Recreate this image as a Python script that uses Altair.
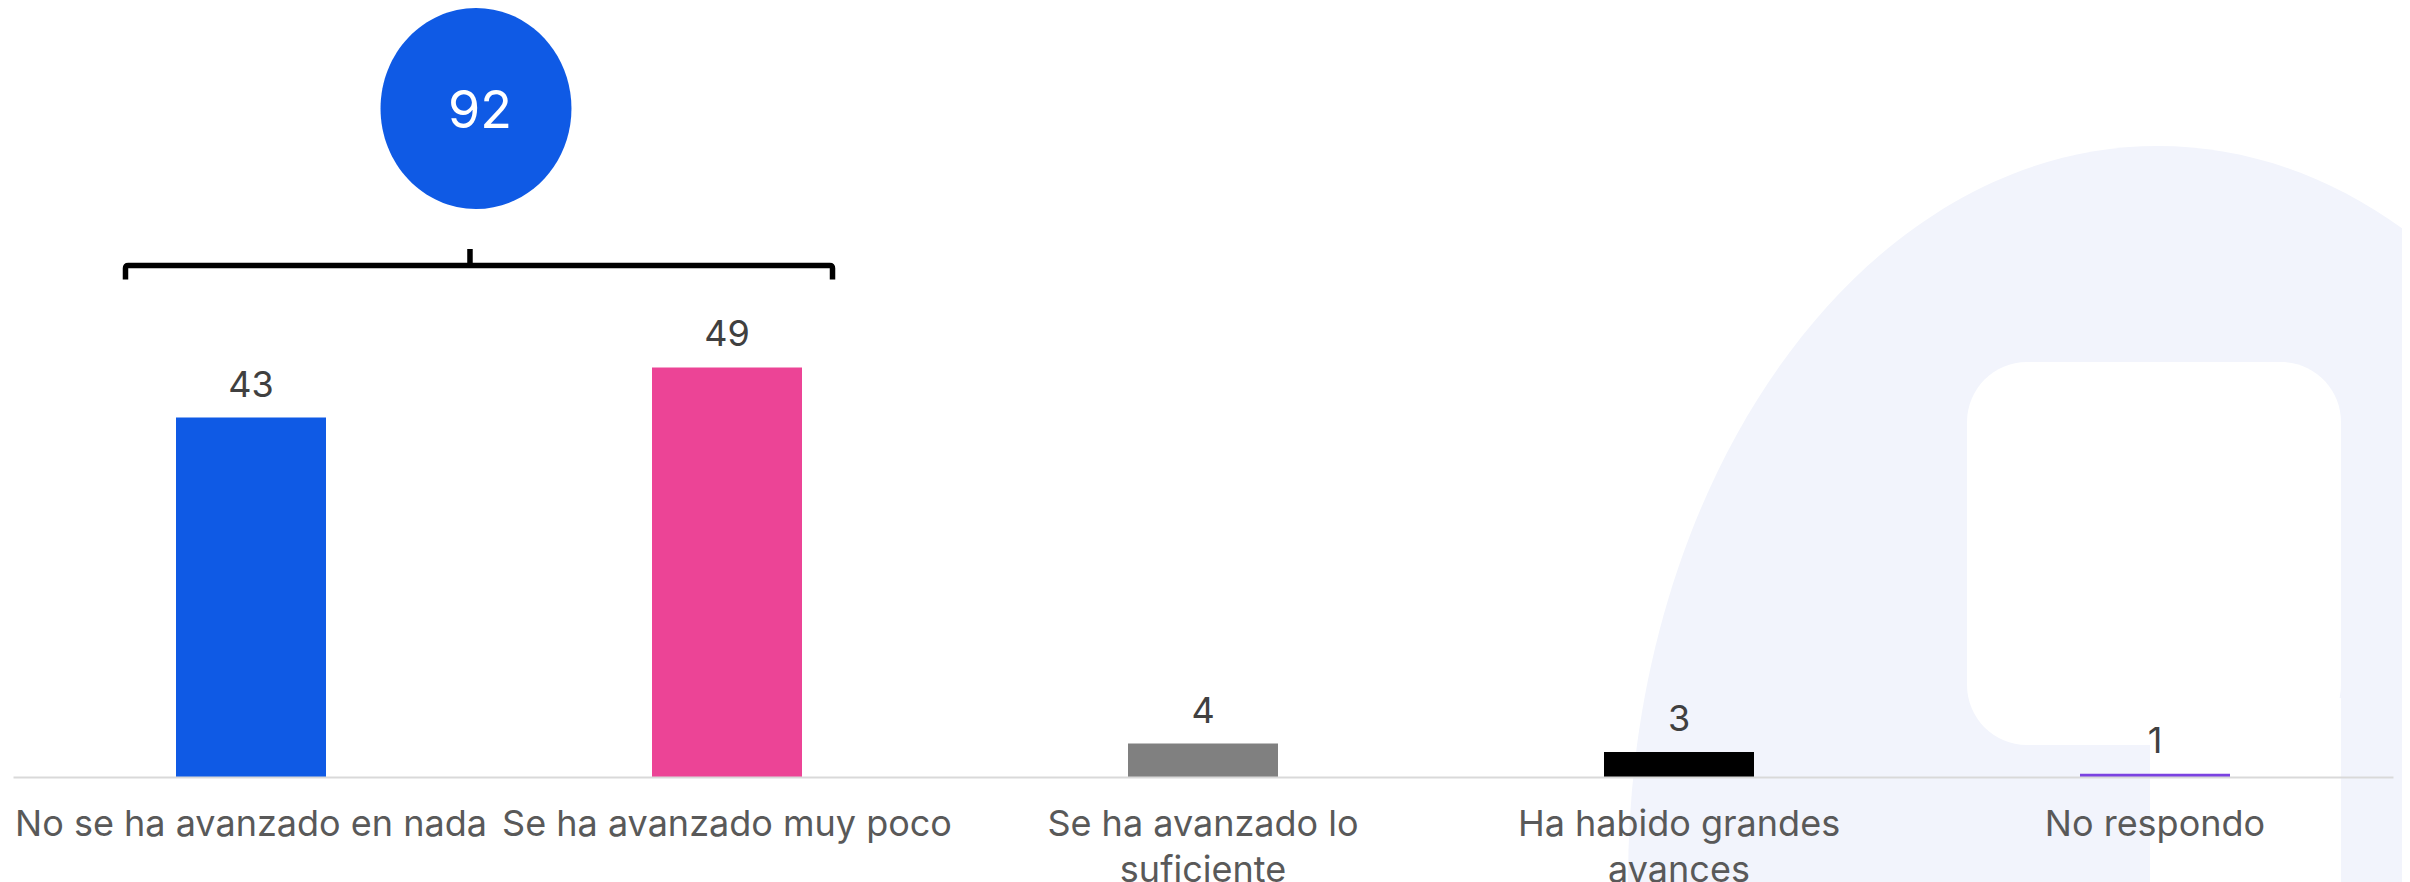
import altair as alt
import pandas as pd

# ---------------- data ----------------
categories = [
    "No se ha avanzado en nada",
    "Se ha avanzado muy poco",
    "Se ha avanzado lo suficiente",
    "Ha habido grandes avances",
    "No respondo",
]
label_lines = [
    ["No se ha avanzado en nada"],
    ["Se ha avanzado muy poco"],
    ["Se ha avanzado lo", "suficiente"],
    ["Ha habido grandes", "avances"],
    ["No respondo"],
]
values = [43, 49, 4, 3, 0.4]
value_labels = ["43", "49", "4", "3", "1"]
colors = ["#0F5AE5", "#EC4496", "#808080", "#000000", "#7B42E1"]
group_total = ["92"]

df = pd.DataFrame({"cat": categories, "value": values, "label": value_labels})
deco = pd.DataFrame({"k": [0]})
tot = pd.DataFrame({"t": group_total})

W, H = 2380, 769


def ellipse_path(a, b):
    k = 0.5523
    return (
        f"M {a} 0 C {a} {k*b:.4f} {k*a:.4f} {b} 0 {b} "
        f"C {-k*a:.4f} {b} {-a} {k*b:.4f} {-a} 0 "
        f"C {-a} {-k*b:.4f} {-k*a:.4f} {-b} 0 {-b} "
        f"C {k*a:.4f} {-b} {a} {-k*b:.4f} {a} 0 Z"
    )


bracket_path = (
    "M -0.9958 0.0394 L -0.9958 0.008 Q -0.9958 0 -0.988 0 L 0.988 0 "
    "Q 0.9958 0 0.9958 0.008 L 0.9958 0.0394 "
    "M -0.0254 0 L -0.0254 -0.0465"
)

# label expression for wrapped axis labels
expr = "datum.label"
for c, lines in zip(reversed(categories), reversed(label_lines)):
    arr = "[" + ",".join("'" + l + "'" for l in lines) + "]"
    expr = f"datum.value == '{c}' ? {arr} : ({expr})"

x_enc = alt.X(
    "cat:N",
    sort=categories,
    scale=alt.Scale(domain=categories, paddingInner=0.685, paddingOuter=0.3425),
    axis=alt.Axis(
        title=None,
        ticks=False,
        tickSize=0,
        labelPadding=30,
        labelFontSize=36,
        labelFont="Inter",
        labelColor="#595959",
        labelLineHeight=46,
        labelAngle=0,
        labelLimit=0,
        labelOverlap=False,
        labelBaseline="top",
        labelExpr=expr,
        domainColor="#D9D9D9",
        domainWidth=2,
        grid=False,
        zindex=1,
    ),
)
y_enc = alt.Y("value:Q", scale=alt.Scale(domain=[0, 92]), axis=None)

lavender = alt.Chart(deco).mark_point(
    shape=ellipse_path(0.722, 1), size=1468 ** 2, filled=True,
    color="#F2F4FC", opacity=1, strokeWidth=0,
).encode(x=alt.value(2145), y=alt.value(872))

counter = alt.Chart(deco).mark_rect(color="white", cornerRadius=60).encode(
    x=alt.value(1954), x2=alt.value(2328), y=alt.value(354), y2=alt.value(737)
)
slit = alt.Chart(deco).mark_rect(color="white").encode(
    x=alt.value(2137), x2=alt.value(2328), y=alt.value(690), y2=alt.value(900)
)

bars = alt.Chart(df).mark_bar(size=150).encode(
    x=x_enc,
    y=y_enc,
    color=alt.Color("cat:N", scale=alt.Scale(domain=categories, range=colors), legend=None),
)
texts = alt.Chart(df).mark_text(
    dy=-21, baseline="alphabetic", align="center", fontSize=36, font="Inter", color="#404040"
).encode(x=x_enc, y=y_enc, text="label:N")

bubble = alt.Chart(deco).mark_point(
    shape=ellipse_path(0.95, 1), size=201 ** 2, filled=True,
    color=colors[0], opacity=1, strokeWidth=0,
).encode(x=alt.value(463), y=alt.value(100.5))

bubble_text = alt.Chart(tot).mark_text(
    fontSize=52, font="Inter", color="white", baseline="alphabetic", align="center"
).encode(x=alt.value(467), y=alt.value(120), text="t:N")

bracket = alt.Chart(deco).mark_point(
    shape=bracket_path, size=710 ** 2, filled=False, color="black",
    strokeWidth=5.5, opacity=1, strokeJoin="round",
).encode(x=alt.value(466), y=alt.value(257.5))

chart = alt.layer(
    lavender, counter, slit, bars, texts, bubble, bubble_text, bracket
).properties(
    width=W, height=H, autosize="none",
    padding={"left": 5, "top": 0, "right": 9, "bottom": 105},
    background="white",
).configure_view(stroke=None)

chart.save("out.html", embed_options={"renderer": "svg", "actions": False})
